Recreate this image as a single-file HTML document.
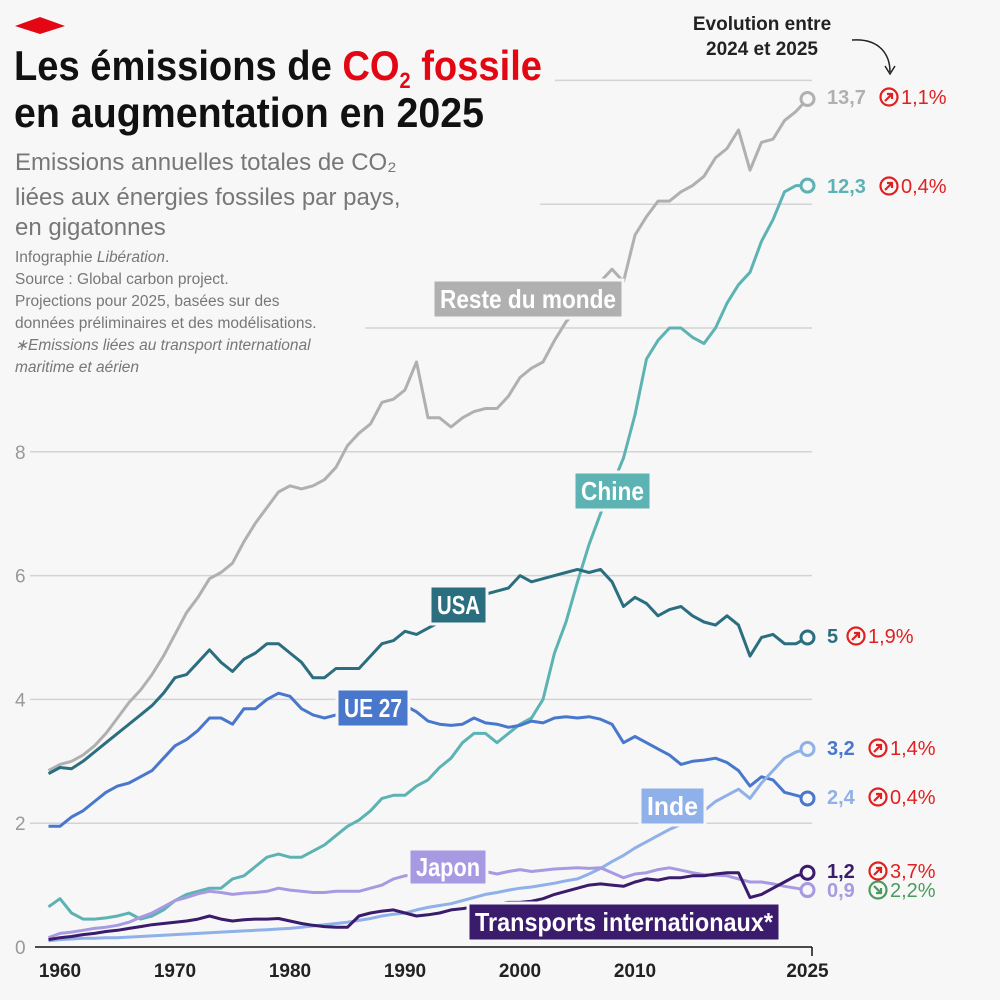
<!DOCTYPE html>
<html><head><meta charset="utf-8"><style>
body{margin:0;background:#f7f7f7;}
svg{display:block;font-family:"Liberation Sans",sans-serif;}
.t{font-family:"Liberation Sans Narrow","Liberation Sans",sans-serif;font-weight:bold;}
</style></head><body>
<svg id="c" width="1000" height="1000" viewBox="0 0 1000 1000">
<rect width="1000" height="1000" fill="#f7f7f7"/>
<polygon points="15,26 40,17 65,26 40,34" fill="#e30613"/>
<g id="grid"></g>
<text class="t" x="14" y="80" font-size="42" fill="#111" textLength="528" lengthAdjust="spacingAndGlyphs">Les émissions de <tspan fill="#e30613">CO<tspan font-size="22" dy="8">2</tspan><tspan dy="-8"> fossile</tspan></tspan></text>
<text class="t" x="14" y="127" font-size="42" fill="#111" textLength="470" lengthAdjust="spacingAndGlyphs">en augmentation en 2025</text>
<g fill="#777" font-size="24">
<text x="15" y="170">Emissions annuelles totales de CO₂</text>
<text x="15" y="205">liées aux énergies fossiles par pays,</text>
<text x="15" y="235">en gigatonnes</text>
</g>
<g fill="#777" font-size="15.5">
<text x="15" y="262">Infographie <tspan font-style="italic">Libération</tspan>.</text>
<text x="15" y="284">Source : Global carbon project.</text>
<text x="15" y="306">Projections pour 2025, basées sur des</text>
<text x="15" y="328">données préliminaires et des modélisations.</text>
<text x="15" y="350" font-style="italic">∗Emissions liées au transport international</text>
<text x="15" y="372" font-style="italic">maritime et aérien</text>
</g>
<text x="762" y="30" font-size="19" font-weight="bold" fill="#222" text-anchor="middle">Evolution entre</text>
<text x="762" y="55" font-size="19" font-weight="bold" fill="#222" text-anchor="middle">2024 et 2025</text>
<path d="M852,40 C880,38 890,55 890,72" fill="none" stroke="#222" stroke-width="1.5"/>
<path d="M885,66 L890,74 L895,66" fill="none" stroke="#222" stroke-width="1.5"/>
<g id="series"></g>
<g id="labels"></g>
<g id="axis"></g>
</svg>
<script>
const yTicks=[0,2,4,6,8,10,12,14];
const xTicks=[1960,1970,1980,1990,2000,2010,2025];
const years=[];for(let y=1959;y<=2025;y++)years.push(y);
const resteVals=[2.85,2.95,3.0,3.1,3.25,3.45,3.7,3.95,4.15,4.4,4.7,5.05,5.4,5.65,5.95,6.05,6.2,6.55,6.85,7.1,7.35,7.45,7.4,7.45,7.55,7.75,8.1,8.3,8.45,8.8,8.85,9.0,9.45,8.55,8.55,8.4,8.55,8.65,8.7,8.7,8.9,9.2,9.35,9.45,9.8,10.1,10.3,10.5,10.75,10.95,10.75,11.5,11.8,12.05,12.05,12.2,12.3,12.45,12.75,12.9,13.2,12.55,13.0,13.05,13.35,13.5,13.7];
const chineVals=[0.65,0.78,0.55,0.45,0.45,0.47,0.5,0.55,0.45,0.5,0.6,0.75,0.85,0.9,0.95,0.95,1.1,1.15,1.3,1.45,1.5,1.45,1.45,1.55,1.65,1.8,1.95,2.05,2.2,2.4,2.45,2.45,2.6,2.7,2.9,3.05,3.3,3.45,3.45,3.3,3.45,3.6,3.7,4.0,4.75,5.25,5.9,6.5,7.0,7.45,7.9,8.6,9.5,9.8,10.0,10.0,9.85,9.75,10.0,10.4,10.7,10.9,11.4,11.75,12.2,12.3,12.3];
const usaVals=[2.8,2.9,2.88,3.0,3.15,3.3,3.45,3.6,3.75,3.9,4.1,4.35,4.4,4.6,4.8,4.6,4.45,4.65,4.75,4.9,4.9,4.75,4.6,4.35,4.35,4.5,4.5,4.5,4.7,4.9,4.95,5.1,5.05,5.15,5.25,5.35,5.4,5.6,5.7,5.75,5.8,6.0,5.9,5.95,6.0,6.05,6.1,6.05,6.1,5.9,5.5,5.65,5.55,5.35,5.45,5.5,5.35,5.25,5.2,5.35,5.2,4.7,5.0,5.05,4.9,4.9,5.0];
const ueVals=[1.95,1.95,2.1,2.2,2.35,2.5,2.6,2.65,2.75,2.85,3.05,3.25,3.35,3.5,3.7,3.7,3.6,3.85,3.85,4.0,4.1,4.05,3.85,3.75,3.7,3.75,3.8,3.75,3.8,3.8,3.85,3.9,3.8,3.65,3.6,3.58,3.6,3.7,3.62,3.6,3.55,3.58,3.65,3.62,3.7,3.72,3.7,3.72,3.68,3.6,3.3,3.4,3.3,3.2,3.1,2.95,3.0,3.02,3.05,2.98,2.85,2.6,2.75,2.7,2.5,2.45,2.4];
const indeVals=[0.1,0.12,0.13,0.14,0.14,0.15,0.15,0.16,0.17,0.18,0.19,0.2,0.21,0.22,0.23,0.24,0.25,0.26,0.27,0.28,0.29,0.3,0.32,0.34,0.36,0.38,0.4,0.43,0.46,0.5,0.53,0.55,0.6,0.64,0.67,0.7,0.75,0.8,0.85,0.88,0.92,0.95,0.97,1.0,1.03,1.07,1.1,1.18,1.27,1.38,1.48,1.6,1.7,1.8,1.9,1.98,2.15,2.2,2.35,2.45,2.55,2.4,2.65,2.85,3.05,3.15,3.2];
const japonVals=[0.15,0.22,0.24,0.27,0.3,0.32,0.35,0.4,0.48,0.55,0.65,0.75,0.8,0.86,0.9,0.88,0.85,0.87,0.88,0.9,0.95,0.92,0.9,0.88,0.88,0.9,0.9,0.9,0.95,1.0,1.1,1.15,1.16,1.18,1.17,1.19,1.2,1.22,1.22,1.18,1.22,1.25,1.22,1.24,1.26,1.27,1.28,1.27,1.28,1.2,1.12,1.18,1.2,1.25,1.28,1.24,1.2,1.17,1.16,1.15,1.1,1.05,1.05,1.02,0.98,0.95,0.92];
const transVals=[0.12,0.15,0.17,0.2,0.22,0.25,0.27,0.3,0.33,0.36,0.38,0.4,0.42,0.45,0.5,0.45,0.42,0.44,0.45,0.45,0.46,0.42,0.38,0.35,0.33,0.32,0.32,0.5,0.55,0.58,0.6,0.55,0.5,0.52,0.55,0.6,0.62,0.65,0.68,0.7,0.72,0.72,0.74,0.78,0.85,0.9,0.95,1.0,1.02,1.0,0.98,1.05,1.1,1.08,1.12,1.12,1.15,1.15,1.18,1.2,1.2,0.8,0.85,0.95,1.05,1.15,1.2];
const finalLabels=["13,7","12,3","5","3,2","2,4","0,9","1,2"];
const changeLabels=["1,1%","0,4%","1,9%","1,4%","0,4%","2,2%","3,7%"];
const changeUp=[true,true,true,true,true,false,true];
const NS="http://www.w3.org/2000/svg";
const X=y=>60+(y-1960)*11.5, Y=v=>947-v*61.9;
function mk(t,a,p){const e=document.createElementNS(NS,t);for(const k in a)e.setAttribute(k,a[k]);p.appendChild(e);return e;}
const grid=document.getElementById('grid');
const gridStart={0:35,2:30,4:30,6:30,8:30,10:365,12:540,14:555};
yTicks.forEach(v=>{
  if(v>0){const l=mk('line',{x1:gridStart[v],x2:812,y1:Y(v),y2:Y(v),stroke:'#d3d3d3','stroke-width':1.5},grid);
  
  }
  if(v<=8){const t=mk('text',{x:15,y:Y(v)+7,'font-size':19,fill:'#999'},grid);t.textContent=v;
  
  }
});
const ax=document.getElementById('axis');
const base=mk('line',{x1:35,x2:812,y1:947,y2:947,stroke:'#111','stroke-width':1.5},ax);


mk('line',{x1:812,x2:812,y1:947,y2:956,stroke:'#111','stroke-width':1.5},ax);
xTicks.forEach(y=>{const t=mk('text',{x:X(y),y:977,'font-size':19,'font-weight':'bold',fill:'#222','text-anchor':'middle'},ax);t.textContent=y;

});
const series=[
 ['reste-du-monde',resteVals,'#b0b0b0'],
 ['chine',chineVals,'#5db3b3'],
 ['usa',usaVals,'#2b6e7f'],
 ['ue-27',ueVals,'#4877cc'],
 ['inde',indeVals,'#8fb0e8'],
 ['japon',japonVals,'#a89ae2'],
 ['transports-internationaux',transVals,'#3a1b6c']];
const sg=document.getElementById('series');
const labelY=[97,186,636,748,797,890,871];
series.forEach(([n,vals,col],i)=>{
  const d=vals.map((v,j)=>(j?'L':'M')+X(years[j]).toFixed(1)+','+Y(v).toFixed(1)).join('');
  const p=mk('path',{d,fill:'none',stroke:col,'stroke-width':3,'stroke-linejoin':'round'},sg);
  
  
  const last=vals[vals.length-1];
  const c=mk('circle',{cx:X(2025),cy:Y(last),r:6.5,fill:'#f7f7f7',stroke:col,'stroke-width':3},sg);
  
  
  const ly=labelY[i];
  const t=mk('text',{x:827,y:ly+7,'font-size':20,'font-weight':'bold',fill:col},sg);t.textContent=finalLabels[i];
  
  
  const cx=827+finalLabels[i].length*11+18;
  const up=changeUp[i], cc=up?'#e02020':'#4a9a5e';
  mk('circle',{cx:cx,cy:ly,r:8.5,fill:'none',stroke:cc,'stroke-width':2.2},sg);
  mk('path',{d:up?`M${cx-4},${ly+4}L${cx+3},${ly-3}M${cx-2},${ly-3}H${cx+3}V${ly+2}`:`M${cx-4},${ly-4}L${cx+3},${ly+3}M${cx-2},${ly+3}H${cx+3}V${ly-2}`,stroke:cc,'stroke-width':2.2,fill:'none'},sg);
  const ct=mk('text',{x:cx+12,y:ly+7,'font-size':20,fill:cc},sg);ct.textContent=changeLabels[i];
  
  
});
const lab=document.getElementById('labels');
[['Reste du monde',433,280,190,38,'#b0b0b0','#fff'],['Chine',574,472,77,38,'#5db3b3','#fff'],['USA',430,586,57,38,'#2b6e7f','#fff'],['UE 27',337,689,72,38,'#4877cc','#fff'],['Inde',640,787,65,38,'#8fb0e8','#fff'],['Japon',409,849,78,36,'#a89ae2','#fff'],['Transports internationaux*',468,903,312,38,'#3a1b6c','#fff']].forEach(([s,x,y,w,h,bg,fg])=>{
  const r=mk('rect',{x,y,width:w,height:h,fill:bg,stroke:'#f7f7f7','stroke-width':3},lab);
  
  
  const t=mk('text',{x:x+w/2,y:y+h/2+9,'font-size':26,fill:fg,'text-anchor':'middle',class:'t',textLength:w-14,lengthAdjust:'spacingAndGlyphs'},lab);t.textContent=s;
});
</script>
</body></html>
